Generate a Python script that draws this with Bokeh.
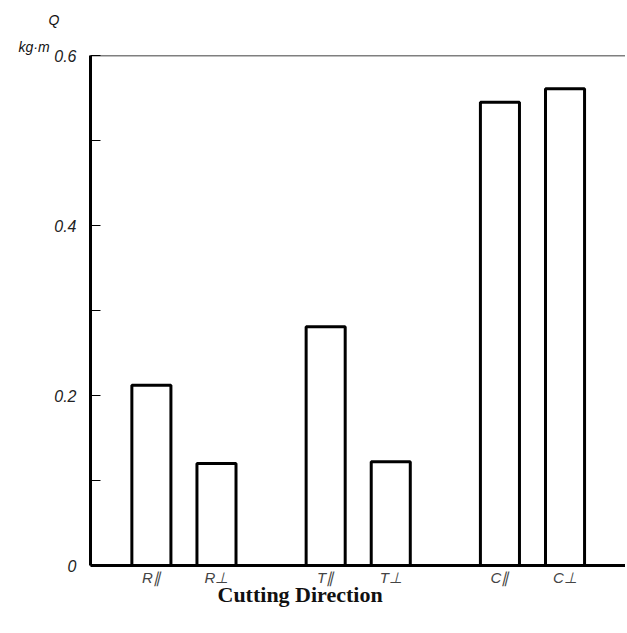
from bokeh.plotting import figure
from bokeh.models import Range1d, FixedTicker, Span, Title
from bokeh.embed import file_html
from bokeh.resources import INLINE

categories = ["R\u2225", "R\u22a5", "T\u2225", "T\u22a5", "C\u2225", "C\u22a5"]
group_index = [0, 0, 1, 1, 2, 2]
sub_index = [0, 1, 0, 1, 0, 1]
values = [0.212, 0.120, 0.281, 0.122, 0.545, 0.561]
y_major = [0, 0.2, 0.4, 0.6]
y_minor = [0.1, 0.3, 0.5]

# layout: bars placed by group and position within group
GROUP_STEP = 4.15
SUB_STEP = 1.55
xs = [g * GROUP_STEP + s * SUB_STEP for g, s in zip(group_index, sub_index)]

p = figure(x_range=Range1d(-1.45, 11.29), y_range=Range1d(0, 0.6),
           width=625, height=630, output_backend="svg", toolbar_location=None,
           min_border_left=90, min_border_top=55, min_border_bottom=65, min_border_right=0)
p.background_fill_color = "white"
p.border_fill_color = "white"
p.outline_line_color = None
p.xgrid.grid_line_color = None
p.ygrid.grid_line_color = None

p.vbar(x=xs, top=values, width=0.93, bottom=0, fill_color="white",
       line_color="black", line_width=3)

p.add_layout(Span(location=0.6, dimension="width", line_color="black", line_width=1.5))

ya = p.yaxis[0]
ya.ticker = FixedTicker(ticks=y_major, minor_ticks=y_minor)
ya.axis_line_width = 3
ya.axis_line_color = "black"
ya.major_tick_in = 10
ya.major_tick_out = 0
ya.minor_tick_in = 10
ya.minor_tick_out = 0
ya.major_tick_line_width = 1
ya.minor_tick_line_width = 1
ya.major_tick_line_color = "black"
ya.minor_tick_line_color = "black"
ya.major_label_text_font = "Liberation Sans"
ya.major_label_text_font_style = "italic"
ya.major_label_text_font_size = "16px"
ya.major_label_text_color = "#222222"
ya.major_label_standoff = 14

xa = p.xaxis[0]
xa.ticker = FixedTicker(ticks=xs, minor_ticks=[])
xa.major_label_overrides = {x: c for x, c in zip(xs, categories)}
xa.axis_line_width = 3
xa.axis_line_color = "black"
xa.major_tick_in = 0
xa.major_tick_out = 0
xa.minor_tick_line_color = None
xa.major_label_text_font = "Liberation Sans"
xa.major_label_text_font_style = "italic"
xa.major_label_text_font_size = "15px"
xa.major_label_text_color = "#444444"
xa.major_label_standoff = 3

# quantity and unit labels above the y axis
p.title.text = "Q"
p.title.align = "left"
p.title.offset = -42
p.title.standoff = 16
p.title.text_font = "Liberation Sans"
p.title.text_font_style = "italic"
p.title.text_font_size = "14px"
p.title.text_color = "#111111"
p.add_layout(Title(text="kg\u00b7m", align="left", offset=-72, standoff=2,
                   text_font="Liberation Sans", text_font_style="italic",
                   text_font_size="14px", text_color="#111111"), "above")

# x axis title, offset to the left as in the original
p.add_layout(Title(text="Cutting Direction", align="left", offset=127, standoff=-17,
                   text_font="Liberation Serif", text_font_style="bold",
                   text_font_size="22px", text_color="#111111"), "below")

open("out.html", "w").write(file_html(p, INLINE))
